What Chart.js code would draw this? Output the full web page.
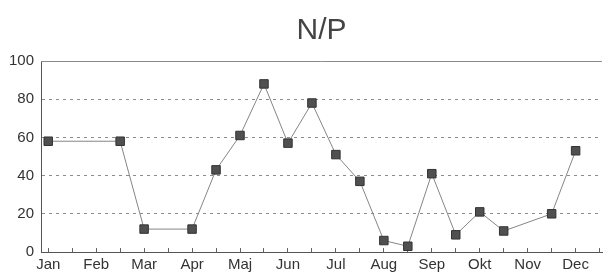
<!DOCTYPE html>
<html>
<head>
<meta charset="utf-8">
<script src="https://cdn.jsdelivr.net/npm/chart.js@4/dist/chart.umd.min.js"></script>
<style>
  html, body { margin: 0; padding: 0; background: #fff; }
  #wrap { width: 609px; height: 273px; }
</style>
</head>
<body>
<div id="wrap"><canvas id="myChart" width="609" height="273"></canvas></div>
<script>
const months = ['Jan', 'Feb', 'Mar', 'Apr', 'Maj', 'Jun', 'Jul', 'Aug', 'Sep', 'Okt', 'Nov', 'Dec'];
// position of each reading, in months from January (half = mid month)
const readingMonth = [0, 1.5, 2, 3, 3.5, 4, 4.5, 5, 5.5, 6, 6.5, 7, 7.5, 8, 8.5, 9, 9.5, 10.5, 11];
const readingValue = [58, 58, 12, 12, 43, 61, 88, 57, 78, 51, 37, 6, 3, 41, 9, 21, 11, 20, 53];
const yTicks = [0, 20, 40, 60, 80, 100];

const tickSpots = [];
for (let i = 0; i < months.length; i++) {
    tickSpots.push(i, i + 0.5);
}

const topBorder = {
    id: 'topBorder',
    afterDatasetsDraw(chart) {
        const a = chart.chartArea;
        const c = chart.ctx;
        c.save();
        c.strokeStyle = '#8a8a8a';
        c.lineWidth = 1;
        c.beginPath();
        c.moveTo(a.left, Math.round(a.top) + 0.5);
        c.lineTo(a.right, Math.round(a.top) + 0.5);
        c.stroke();
        c.restore();
    }
};

const ctx = document.getElementById('myChart');
new Chart(ctx, {
    type: 'line',
    data: {
        datasets: [{
            label: 'N/P',
            data: readingMonth.map((m, i) => ({ x: m, y: readingValue[i] })),
            borderColor: '#858585',
            borderWidth: 1,
            pointStyle: 'rect',
            pointRadius: 6,
            pointBackgroundColor: '#505050',
            pointBorderColor: '#333',
            pointBorderWidth: 1,
            tension: 0
        }]
    },
    options: {
        responsive: false,
        animation: false,
        layout: { padding: { left: 2, right: 2, top: 0, bottom: -8 } },
        plugins: {
            legend: { display: false },
            tooltip: { enabled: false },
            title: {
                display: true,
                text: 'N/P',
                fullSize: false,
                color: '#444',
                font: { family: 'Liberation Sans', size: 30, weight: 'normal' },
                padding: { top: 13, bottom: 12 }
            }
        },
        scales: {
            x: {
                type: 'linear',
                min: -0.15,
                max: 11.55,
                afterBuildTicks: axis => {
                    axis.ticks = tickSpots.map(v => ({ value: v }));
                },
                ticks: {
                    autoSkip: false,
                    maxRotation: 0,
                    padding: 2,
                    color: '#333',
                    font: { family: 'Liberation Sans', size: 15, lineHeight: '29px' },
                    callback: v => Number.isInteger(v) ? months[v] : ''
                },
                grid: {
                    drawOnChartArea: false,
                    drawTicks: true,
                    tickLength: -4,
                    color: '#666'
                },
                border: { display: true, color: '#555', width: 1 }
            },
            y: {
                min: 0,
                max: 100,
                afterBuildTicks: axis => {
                    axis.ticks = yTicks.map(v => ({ value: v }));
                },
                ticks: {
                    padding: 7,
                    color: '#333',
                    font: { family: 'Liberation Sans', size: 15 }
                },
                grid: {
                    drawTicks: false,
                    color: c => (c.tick && (c.tick.value === 0 || c.tick.value === 100)) ? 'rgba(0,0,0,0)' : '#8c8c8c',
                    lineWidth: 1
                },
                border: { display: true, color: '#555', width: 1, dash: [3, 4] }
            }
        }
    },
    plugins: [topBorder]
});
</script>
</body>
</html>
